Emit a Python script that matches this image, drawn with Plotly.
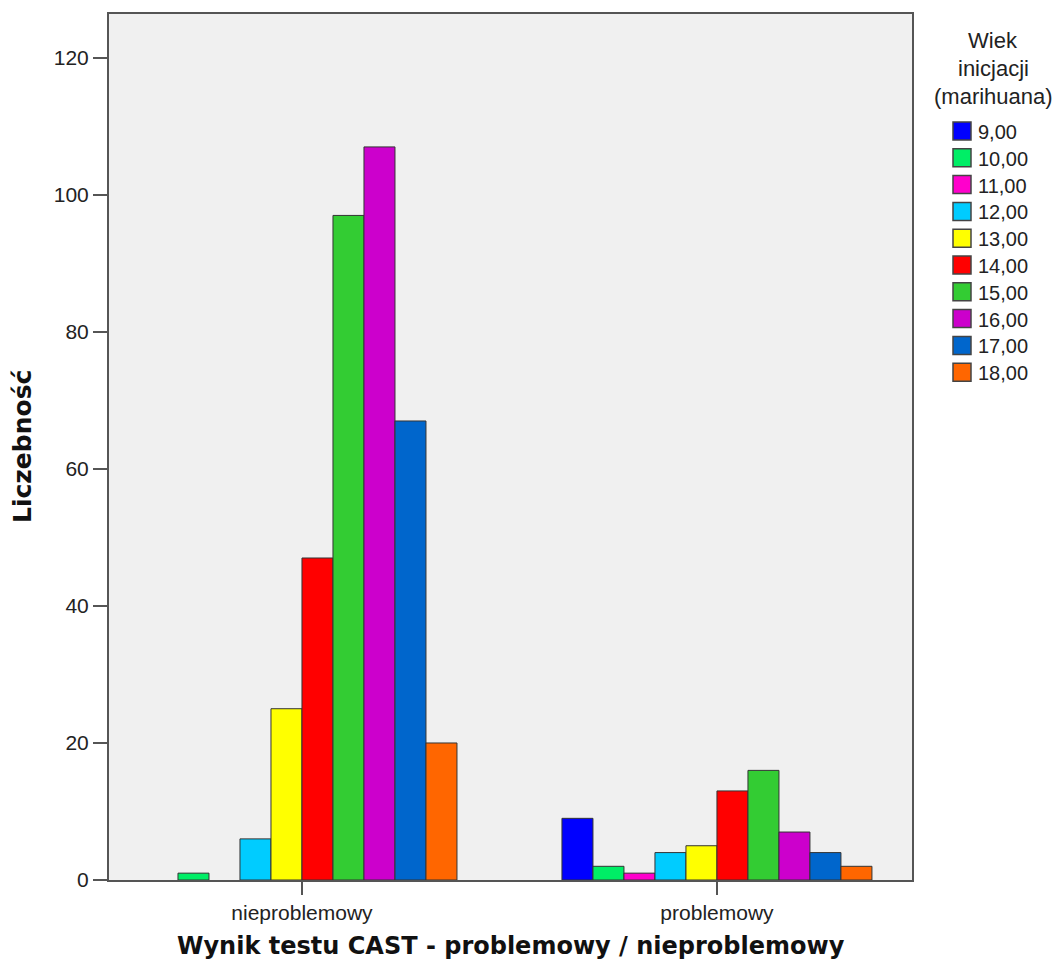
import plotly.graph_objects as go

categories = ["nieproblemowy", "problemowy"]
ages = ["9,00", "10,00", "11,00", "12,00", "13,00", "14,00", "15,00", "16,00", "17,00", "18,00"]
nieproblemowy = [0, 1, 0, 6, 25, 47, 97, 107, 67, 20]
problemowy = [9, 2, 1, 4, 5, 13, 16, 7, 4, 2]
colors = ["#0000ff", "#00ee66", "#ff00cc", "#00ccff", "#ffff00",
          "#ff0000", "#33cc33", "#cc00cc", "#0066cc", "#ff6600"]
legend_title = ["Wiek", "inicjacji", "(marihuana)"]

# page has an 8px body margin, so plot area in screen px is 109..912 x 14..880
PX_L, PX_R, PX_T, PX_B = 109, 912, 14, 880


def px_x(px):
    return (px - PX_L) / (PX_R - PX_L)


def px_y(py):
    return (PX_B - py) / (PX_B - PX_T)


fig = go.Figure()
for i, age in enumerate(ages):
    vals = [nieproblemowy[i], problemowy[i]]
    fig.add_trace(go.Bar(
        x=categories,
        y=[v if v else None for v in vals],
        name=age,
        marker=dict(color=colors[i], line=dict(color="#333333", width=1)),
        showlegend=False,
    ))

# legend drawn by hand (bigger swatches than plotly's)
for i, age in enumerate(ages):
    yc = 131 + 26.8 * i
    fig.add_shape(type="rect", xref="paper", yref="paper",
                  x0=px_x(953), x1=px_x(971), y0=px_y(yc + 9), y1=px_y(yc - 9),
                  fillcolor=colors[i], line=dict(color="#444444", width=1.5))
    fig.add_annotation(text=age, xref="paper", yref="paper",
                       x=px_x(976), y=px_y(yc + 1), xanchor="left", yanchor="middle",
                       showarrow=False, font=dict(size=20))
for j, line in enumerate(legend_title):
    fig.add_annotation(text=line, xref="paper", yref="paper",
                       x=px_x(993), y=px_y(40 + 28 * j), xanchor="center", yanchor="middle",
                       showarrow=False, font=dict(size=22))

fig.add_annotation(text="<b>Wynik testu CAST - problemowy / nieproblemowy</b>",
                   xref="paper", yref="paper", x=0.5, y=px_y(946),
                   xanchor="center", yanchor="middle", showarrow=False,
                   font=dict(family="DejaVu Sans", size=24, color="#111111"))
fig.add_annotation(text="<b>Liczebność</b>", textangle=-90,
                   xref="paper", yref="paper", x=px_x(22), y=0.5,
                   xanchor="center", yanchor="middle", showarrow=False,
                   font=dict(family="DejaVu Sans", size=25, color="#111111"))

fig.update_layout(
    width=1054, height=962,
    margin=dict(l=101, r=150, t=6, b=90, autoexpand=False),
    barmode="group", bargap=0.253, bargroupgap=0,
    plot_bgcolor="#f0f0f0", paper_bgcolor="white",
    font=dict(family="Liberation Sans, Arial, sans-serif", size=20, color="#222222"),
    showlegend=False,
)
fig.update_xaxes(
    range=[-0.465, 1.47],
    showline=True, linecolor="#555555", linewidth=2, mirror=True,
    ticks="outside", ticklen=13, tickcolor="#555555", tickwidth=2,
    tickfont=dict(size=21),
)
fig.update_yaxes(
    range=[0, 126.4],
    tickvals=[0, 20, 40, 60, 80, 100, 120],
    showline=True, linecolor="#555555", linewidth=2, mirror=True,
    showgrid=False, zeroline=False,
    ticks="outside", ticklen=14, tickcolor="#555555", tickwidth=2,
    tickfont=dict(size=21),
)

fig.write_html("out.html")
